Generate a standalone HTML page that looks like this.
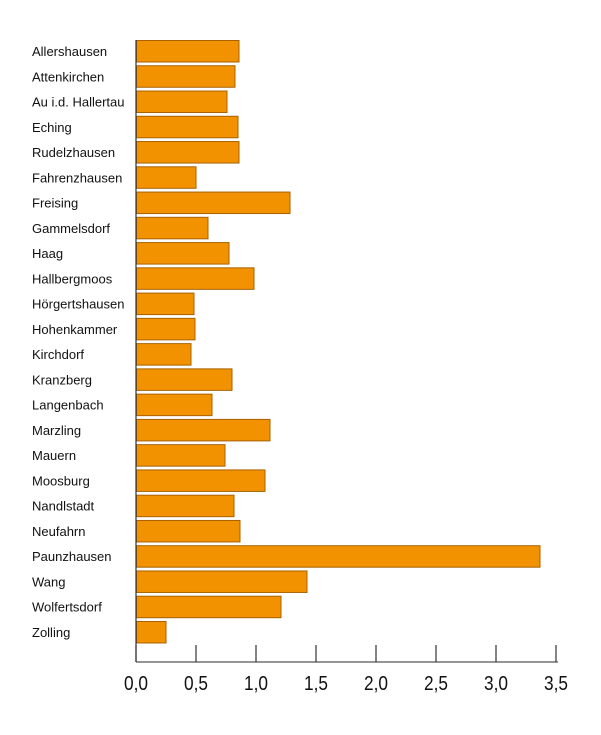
<!DOCTYPE html>
<html><head><meta charset="utf-8"><style>
body{margin:0;background:#fff;}
svg{display:block}
</style></head><body>
<svg width="601" height="735" xmlns="http://www.w3.org/2000/svg" font-family="Liberation Sans, sans-serif">
<g id="bars" fill="#f39200" stroke="#a86200" stroke-width="1"></g>
<g id="labels" font-size="13" fill="#111"></g>
<line x1="136" y1="40" x2="136" y2="662" stroke="#333" stroke-width="1.2"/>
<line x1="136" y1="662" x2="558" y2="662" stroke="#555" stroke-width="1.2"/>
<g id="ticks" stroke="#333" stroke-width="1.2"></g>
<g id="tl" font-size="20" fill="#111" text-anchor="middle"></g>
<script>
var d=[["Allershausen",239],["Attenkirchen",235],["Au i.d. Hallertau",227],["Eching",238],["Rudelzhausen",239],["Fahrenzhausen",196],["Freising",290],["Gammelsdorf",208],["Haag",229],["Hallbergmoos",254],["Hörgertshausen",194],["Hohenkammer",195],["Kirchdorf",191],["Kranzberg",232],["Langenbach",212],["Marzling",270],["Mauern",225],["Moosburg",265],["Nandlstadt",234],["Neufahrn",240],["Paunzhausen",540],["Wang",307],["Wolfertsdorf",281],["Zolling",166]];
var ns="http://www.w3.org/2000/svg",b=document.getElementById("bars"),l=document.getElementById("labels");
d.forEach(function(e,i){var y=40+i*25.26;var r=document.createElementNS(ns,"rect");r.setAttribute("x",136.5);r.setAttribute("y",y+0.5);r.setAttribute("width",e[1]-136.5);r.setAttribute("height",21.5);b.appendChild(r);
var t=document.createElementNS(ns,"text");t.setAttribute("x",32);t.setAttribute("y",y+16);t.textContent=e[0];l.appendChild(t);});
var tk=document.getElementById("ticks"),tl=document.getElementById("tl");
for(var i=0;i<=7;i++){var x=136+i*60;var ln=document.createElementNS(ns,"line");ln.setAttribute("x1",x);ln.setAttribute("x2",x);ln.setAttribute("y1",645);ln.setAttribute("y2",662);tk.appendChild(ln);
var t=document.createElementNS(ns,"text");t.setAttribute("x",x);t.setAttribute("y",690);t.setAttribute("textLength",24);t.setAttribute("lengthAdjust","spacingAndGlyphs");t.textContent=(i*0.5).toFixed(1).replace(".",",");tl.appendChild(t);}
</script>
</svg>
</body></html>
